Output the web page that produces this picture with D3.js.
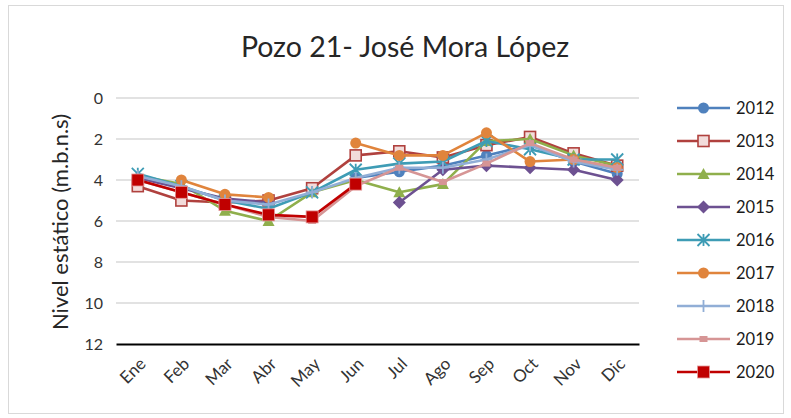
<!DOCTYPE html>
<html><head><meta charset="utf-8">
<script src="https://cdn.jsdelivr.net/npm/d3@7"></script>
<style>body{margin:0;background:#fff;}svg{display:block;font-family:Lato,"Open Sans",sans-serif;}</style>
</head><body>
<svg id="c" width="791" height="418"></svg>
<script>
const months = ["Ene","Feb","Mar","Abr","May","Jun","Jul","Ago","Sep","Oct","Nov","Dic"];
const yTicks = [0,2,4,6,8,10,12];
const years = ["2012","2013","2014","2015","2016","2017","2018","2019","2020"];
const s2012 = [null,null,null,null,null,3.9,3.6,3.3,2.8,2.3,3.1,3.7];
const s2013 = [4.3,5.0,5.1,5.0,4.4,2.8,2.6,2.9,2.3,1.9,2.7,3.3];
const s2014 = [3.8,4.2,5.5,6.0,4.6,4.0,4.6,4.2,2.1,2.0,2.8,3.3];
const s2015 = [3.9,4.4,4.9,5.1,null,null,5.1,3.5,3.3,3.4,3.5,4.0];
const s2016 = [3.7,4.3,5.0,5.4,4.6,3.5,3.2,3.1,2.1,2.5,3.0,3.0];
const s2017 = [null,4.0,4.7,4.85,null,2.2,2.8,2.8,1.7,3.1,3.0,3.4];
const s2018 = [3.8,4.3,5.0,5.2,4.6,3.9,3.4,3.4,3.0,2.3,3.1,3.5];
const s2019 = [4.0,4.6,5.2,5.8,6.0,4.3,3.4,4.1,3.2,2.2,3.0,3.4];
const s2020 = [4.0,4.6,5.2,5.7,5.8,4.2,null,null,null,null,null,null];
const seriesValues = [s2012,s2013,s2014,s2015,s2016,s2017,s2018,s2019,s2020];
const colors = ["#4f81bd","#b0413e","#8faf4c","#6d5191","#3e9cb5","#e0843c","#91aed6","#d69595","#c00000"];
const markers = ["circle","squareOpen","triangle","diamond","asterisk","circle","plus","dash","square"];

const FONT = "Lato,'Open Sans',sans-serif";
const svg = d3.select("#c");
svg.append("rect").attr("x",8.5).attr("y",5.5).attr("width",775).attr("height",408)
  .attr("fill","#fff").attr("stroke","#d9d9d9").attr("stroke-width",1);

const x = d3.scaleBand().domain(months).range([116,639]);
const y = d3.scaleLinear().domain([0,12]).range([98,344]);
const cx = m => x(m) + x.bandwidth()/2;

svg.append("text").attr("x",405).attr("y",57).attr("text-anchor","middle")
  .attr("font-size",28.5).attr("fill","#262626").text("Pozo 21- José Mora López");

svg.append("g").selectAll("line").data(yTicks.slice(0,-1)).join("line")
  .attr("x1",116).attr("x2",639).attr("y1",d=>y(d)).attr("y2",d=>y(d))
  .attr("stroke","#d9d9d9").attr("stroke-width",1.5);

const ya = svg.append("g").attr("transform","translate(116,0)")
  .call(d3.axisLeft(y).tickValues(yTicks).tickSize(0).tickPadding(13));
ya.select(".domain").remove();
ya.selectAll("text").attr("font-size",16).attr("fill","#333").attr("font-family",FONT);

const xa = svg.append("g").attr("transform","translate(0,344)")
  .call(d3.axisBottom(x).tickSize(0).tickPadding(0));
xa.select(".domain").attr("stroke","#000").attr("stroke-width",2);
xa.selectAll("text").attr("font-size",17).attr("fill","#333")
  .attr("font-family",FONT)
  .attr("text-anchor","end").attr("dy",0)
  .attr("transform","translate(9,21) rotate(-45)");

svg.append("text").attr("transform","translate(68,222) rotate(-90)")
  .attr("text-anchor","middle").attr("font-size",22).attr("fill","#262626")
  .text("Nivel estático (m.b.n.s)");

function drawMarker(g, type, color, px, py) {
  if (type==="circle") g.append("circle").attr("cx",px).attr("cy",py).attr("r",5.5).attr("fill",color);
  else if (type==="square") g.append("rect").attr("x",px-6).attr("y",py-6).attr("width",12).attr("height",12).attr("fill",color).attr("stroke","#e49b9b").attr("stroke-width",0.8);
  else if (type==="squareOpen") g.append("rect").attr("x",px-5.5).attr("y",py-5.5).attr("width",11).attr("height",11).attr("fill","#f2dcdb").attr("stroke",color).attr("stroke-width",1.6);
  else if (type==="triangle") g.append("path").attr("d",`M${px},${py-6}L${px+6},${py+5}L${px-6},${py+5}Z`).attr("fill",color);
  else if (type==="diamond") g.append("path").attr("d",`M${px},${py-6.5}L${px+6.5},${py}L${px},${py+6.5}L${px-6.5},${py}Z`).attr("fill",color);
  else if (type==="asterisk") {
    const r=6;
    g.append("path").attr("d",`M${px-r},${py-r}L${px+r},${py+r}M${px+r},${py-r}L${px-r},${py+r}M${px},${py-r}L${px},${py+r}`).attr("stroke",color).attr("stroke-width",1.8);
  }
  else if (type==="plus") {
    const r=6;
    g.append("path").attr("d",`M${px-r},${py}L${px+r},${py}M${px},${py-r}L${px},${py+r}`).attr("stroke",color).attr("stroke-width",1.8);
  }
  else if (type==="dash") g.append("rect").attr("x",px-4).attr("y",py-3).attr("width",8).attr("height",6).attr("fill",color);
}

const line = d3.line().defined(d=>d.v!==null).x(d=>cx(d.m)).y(d=>y(d.v));
const plot = svg.append("g");
seriesValues.forEach((vals,i)=>{
  const data = months.map((m,j)=>({m, v: vals[j]}));
  const g = plot.append("g");
  g.append("path").datum(data).attr("d",line).attr("fill","none")
    .attr("stroke",colors[i]).attr("stroke-width",2.6).attr("stroke-linejoin","round");
  data.filter(d=>d.v!==null).forEach(d=>drawMarker(g, markers[i], colors[i], cx(d.m), y(d.v)));
});

const lg = svg.append("g");
years.forEach((yr,i)=>{
  const ly = 108 + i*33;
  lg.append("line").attr("x1",677).attr("x2",730).attr("y1",ly).attr("y2",ly)
    .attr("stroke",colors[i]).attr("stroke-width",2.6);
  drawMarker(lg, markers[i], colors[i], 703.5, ly);
  lg.append("text").attr("x",736).attr("y",ly+6).attr("font-size",16.5).attr("fill","#1a1a1a").text(yr);
});
</script>
</body></html>
